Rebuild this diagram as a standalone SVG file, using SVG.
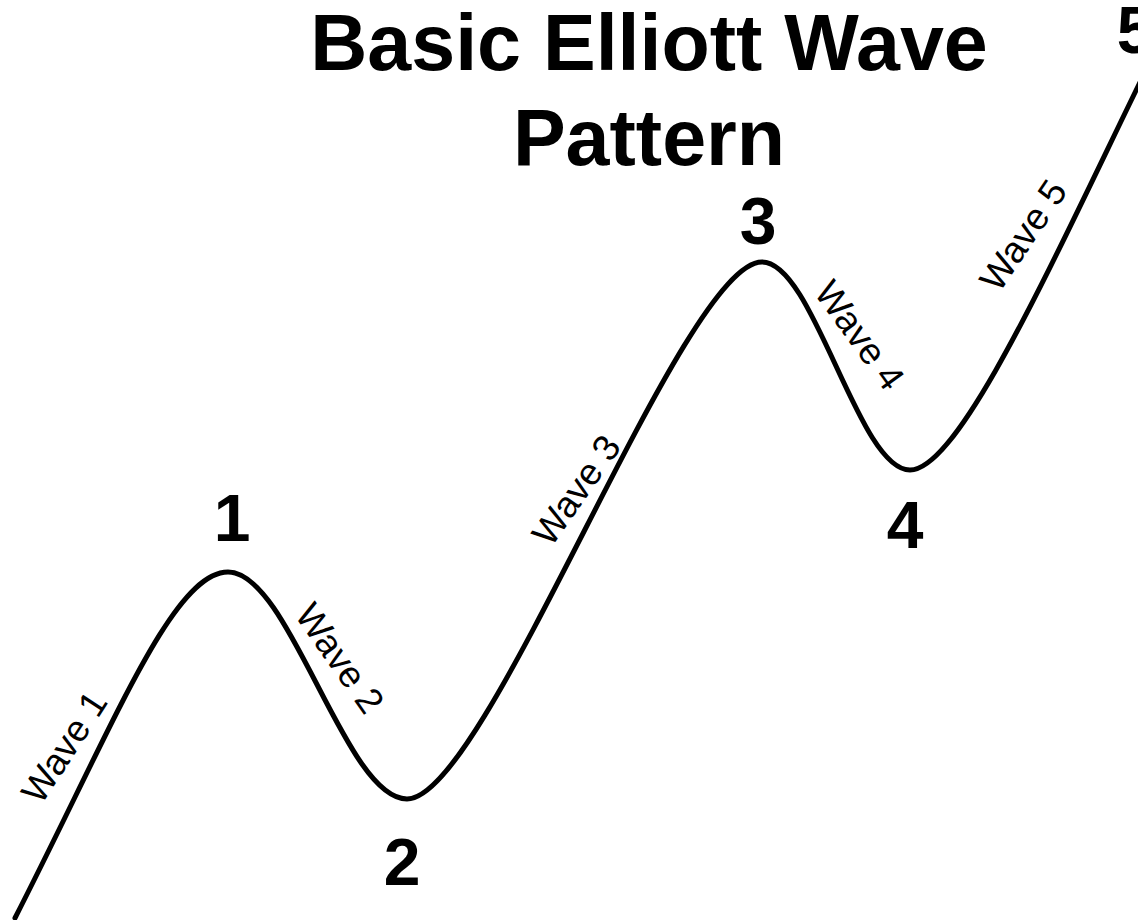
<svg xmlns="http://www.w3.org/2000/svg" width="1138" height="920" viewBox="0 0 1138 920">
  <style>
    .title { font-family: "Liberation Sans", Arial, sans-serif; font-weight: bold; font-size: 79px; fill: #000; text-anchor: middle; }
    .num { font-family: "Liberation Sans", Arial, sans-serif; font-weight: bold; font-size: 66px; fill: #000; text-anchor: middle; }
    .lbl { font-family: "Liberation Sans", Arial, sans-serif; font-size: 37px; fill: #000; text-anchor: middle; }
    .wave { fill: none; stroke: #000; stroke-width: 5; stroke-linecap: round; stroke-linejoin: round; }
  </style>
  <rect x="0" y="0" width="1138" height="920" fill="#fff"/>
  <g id="title">
    <text class="title" x="649" y="70">Basic Elliott Wave</text>
    <text class="title" x="649" y="165">Pattern</text>
  </g>
  <g id="connectors">
    <path class="wave" d="M 15 918 C 115 722, 173 572, 228 572 C 290 572, 345 799, 407 799 C 487 799, 682 262, 762 262 C 814 262, 858 470, 910 470 C 960 470, 1055 256, 1145 72"/>
  </g>
  <g id="point-1"><text class="num" x="232" y="541">1</text></g>
  <g id="point-2"><text class="num" x="402" y="885">2</text></g>
  <g id="point-3"><text class="num" x="758" y="244">3</text></g>
  <g id="point-4"><text class="num" x="905" y="548">4</text></g>
  <g id="point-5"><text class="num" x="1135" y="53">5</text></g>
  <g id="wave-1"><text class="lbl" transform="translate(64,747) rotate(-57)" x="0" y="0" dy="13">Wave 1</text></g>
  <g id="wave-2"><text class="lbl" transform="translate(340,658) rotate(55)" x="0" y="0" dy="13">Wave 2</text></g>
  <g id="wave-3"><text class="lbl" transform="translate(576,490) rotate(-55)" x="0" y="0" dy="13">Wave 3</text></g>
  <g id="wave-4"><text class="lbl" transform="translate(860,335) rotate(54)" x="0" y="0" dy="13">Wave 4</text></g>
  <g id="wave-5"><text class="lbl" transform="translate(1023,235) rotate(-56)" x="0" y="0" dy="13">Wave 5</text></g>
</svg>
